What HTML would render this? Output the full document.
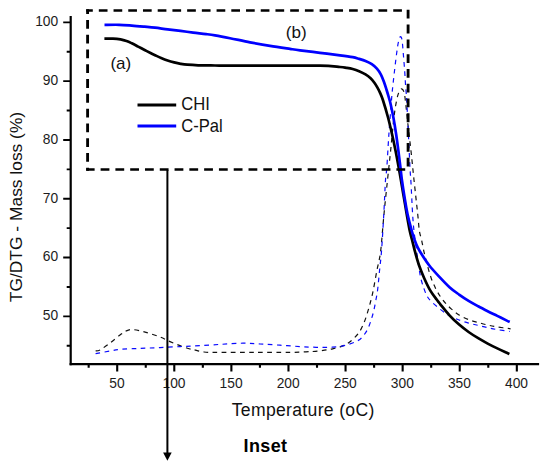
<!DOCTYPE html>
<html><head><meta charset="utf-8"><title>TG/DTG</title>
<style>
html,body{margin:0;padding:0;background:#fff;}
svg{display:block;}
text{font-family:"Liberation Sans",Arial,sans-serif;}
</style></head><body>
<svg width="550" height="471" viewBox="0 0 550 471">
<rect width="550" height="471" fill="#fff"/>
<path d="M95.60 351.00 C96.33 350.83 97.60 351.33 100.00 350.00 C102.40 348.67 106.67 345.50 110.00 343.00 C113.33 340.50 117.33 337.00 120.00 335.00 C122.67 333.00 123.83 331.90 126.00 331.00 C128.17 330.10 129.67 329.37 133.00 329.60 C136.33 329.83 141.50 331.17 146.00 332.40 C150.50 333.63 156.00 335.47 160.00 337.00 C164.00 338.53 166.67 340.17 170.00 341.60 C173.33 343.03 176.67 344.37 180.00 345.60 C183.33 346.83 187.67 348.30 190.00 349.00 C192.33 349.70 191.67 349.30 194.00 349.80 C196.33 350.30 199.67 351.57 204.00 352.00 C208.33 352.43 211.50 352.33 220.00 352.40 C228.50 352.47 243.33 352.40 255.00 352.40 C266.67 352.40 281.50 352.50 290.00 352.40 C298.50 352.30 301.78 351.98 306.00 351.80 C310.22 351.62 312.22 351.57 315.30 351.30 C318.38 351.03 321.60 350.62 324.50 350.20 C327.40 349.78 329.97 349.40 332.70 348.80 C335.43 348.20 338.45 347.47 340.90 346.60 C343.35 345.73 345.32 344.90 347.40 343.60 C349.48 342.30 351.40 340.73 353.40 338.80 C355.40 336.87 357.57 334.85 359.40 332.00 C361.23 329.15 362.93 325.33 364.40 321.70 C365.87 318.07 367.10 313.82 368.20 310.20 C369.30 306.58 370.15 303.37 371.00 300.00 C371.85 296.63 372.30 295.00 373.30 290.00 C374.30 285.00 376.02 275.00 377.00 270.00 C377.98 265.00 378.53 263.67 379.20 260.00 C379.87 256.33 380.20 255.67 381.00 248.00 C381.80 240.33 382.92 225.33 384.00 214.00 C385.08 202.67 386.40 190.50 387.50 180.00 C388.60 169.50 389.52 161.50 390.60 151.00 C391.68 140.50 392.98 125.50 394.00 117.00 C395.02 108.50 395.87 104.17 396.70 100.00 C397.53 95.83 398.18 93.87 399.00 92.00 C399.82 90.13 400.77 88.80 401.60 88.80 C402.43 88.80 403.38 90.13 404.00 92.00 C404.62 93.87 404.63 94.50 405.30 100.00 C405.97 105.50 407.05 116.50 408.00 125.00 C408.95 133.50 410.00 141.83 411.00 151.00 C412.00 160.17 412.88 169.50 414.00 180.00 C415.12 190.50 416.80 205.50 417.70 214.00 C418.60 222.50 418.75 226.67 419.40 231.00 C420.05 235.33 420.80 236.38 421.60 240.00 C422.40 243.62 423.23 248.45 424.20 252.70 C425.17 256.95 426.23 261.25 427.40 265.50 C428.57 269.75 429.83 274.38 431.20 278.20 C432.57 282.02 434.08 285.35 435.60 288.40 C437.12 291.45 438.62 294.00 440.30 296.50 C441.98 299.00 443.83 301.30 445.70 303.40 C447.57 305.50 449.27 307.18 451.50 309.10 C453.73 311.02 456.25 313.15 459.10 314.90 C461.95 316.65 465.42 318.33 468.60 319.60 C471.78 320.87 475.02 321.60 478.20 322.50 C481.38 323.40 484.52 324.27 487.70 325.00 C490.88 325.73 493.48 326.27 497.30 326.90 C501.12 327.53 508.38 328.48 510.60 328.80" fill="none" stroke="#111" stroke-width="1.2" stroke-dasharray="4.7 4.4"/>
<path d="M95.60 353.60 C98.00 353.17 105.93 351.70 110.00 351.00 C114.07 350.30 115.00 349.83 120.00 349.40 C125.00 348.97 133.33 348.70 140.00 348.40 C146.67 348.10 153.33 347.90 160.00 347.60 C166.67 347.30 174.33 346.87 180.00 346.60 C185.67 346.33 187.33 346.37 194.00 346.00 C200.67 345.63 211.83 344.87 220.00 344.40 C228.17 343.93 236.33 343.27 243.00 343.20 C249.67 343.13 253.83 343.67 260.00 344.00 C266.17 344.33 273.33 344.77 280.00 345.20 C286.67 345.63 295.00 346.28 300.00 346.60 C305.00 346.92 306.18 346.97 310.00 347.10 C313.82 347.23 319.20 347.38 322.90 347.40 C326.60 347.42 329.20 347.37 332.20 347.20 C335.20 347.03 338.18 346.87 340.90 346.40 C343.62 345.93 345.95 345.22 348.50 344.40 C351.05 343.58 353.98 342.63 356.20 341.50 C358.42 340.37 359.90 339.63 361.80 337.60 C363.70 335.57 366.00 332.38 367.60 329.30 C369.20 326.22 370.35 322.28 371.40 319.10 C372.45 315.92 373.15 313.38 373.90 310.20 C374.65 307.02 375.28 303.37 375.90 300.00 C376.52 296.63 376.98 295.00 377.60 290.00 C378.22 285.00 378.93 276.67 379.60 270.00 C380.27 263.33 380.90 259.33 381.60 250.00 C382.30 240.67 383.15 225.67 383.80 214.00 C384.45 202.33 385.00 187.67 385.50 180.00 C386.00 172.33 386.23 175.67 386.80 168.00 C387.37 160.33 388.12 145.33 388.90 134.00 C389.68 122.67 390.88 107.67 391.50 100.00 C392.12 92.33 391.93 94.27 392.60 88.00 C393.27 81.73 394.67 69.32 395.50 62.40 C396.33 55.48 397.05 50.15 397.60 46.50 C398.15 42.85 398.45 41.98 398.80 40.50 C399.15 39.02 399.40 38.25 399.70 37.60 C400.00 36.95 400.30 36.57 400.60 36.60 C400.90 36.63 401.22 36.90 401.50 37.80 C401.78 38.70 402.00 39.37 402.30 42.00 C402.60 44.63 402.88 48.48 403.30 53.60 C403.72 58.72 404.42 67.30 404.80 72.70 C405.18 78.10 405.37 82.62 405.60 86.00 C405.83 89.38 406.02 90.67 406.20 93.00 C406.38 95.33 406.33 93.17 406.70 100.00 C407.07 106.83 407.85 122.67 408.40 134.00 C408.95 145.33 409.57 159.83 410.00 168.00 C410.43 176.17 410.57 175.33 411.00 183.00 C411.43 190.67 412.10 206.00 412.60 214.00 C413.10 222.00 413.35 225.00 414.00 231.00 C414.65 237.00 415.73 244.25 416.50 250.00 C417.27 255.75 417.88 260.80 418.60 265.50 C419.32 270.20 419.92 274.38 420.80 278.20 C421.68 282.02 422.87 285.43 423.90 288.40 C424.93 291.37 425.82 293.87 427.00 296.00 C428.18 298.13 428.83 299.02 431.00 301.20 C433.17 303.38 436.92 306.67 440.00 309.10 C443.08 311.53 446.32 313.98 449.50 315.80 C452.68 317.62 455.92 318.78 459.10 320.00 C462.28 321.22 465.42 322.20 468.60 323.10 C471.78 324.00 475.02 324.63 478.20 325.40 C481.38 326.17 484.52 327.00 487.70 327.70 C490.88 328.40 493.63 328.97 497.30 329.60 C500.97 330.23 507.63 331.18 509.70 331.50" fill="none" stroke="#0a0aff" stroke-width="1.2" stroke-dasharray="4.6 4.5"/>
<path d="M104.40 38.70 C105.83 38.68 110.32 38.48 113.00 38.60 C115.68 38.72 118.25 39.00 120.50 39.40 C122.75 39.80 124.62 40.35 126.50 41.00 C128.38 41.65 129.85 42.37 131.80 43.30 C133.75 44.23 136.07 45.48 138.20 46.60 C140.33 47.72 142.47 48.88 144.60 50.00 C146.73 51.12 149.27 52.43 151.00 53.30 C152.73 54.17 153.32 54.42 155.00 55.20 C156.68 55.98 159.00 57.12 161.10 58.00 C163.20 58.88 165.42 59.77 167.60 60.50 C169.78 61.23 172.02 61.85 174.20 62.40 C176.38 62.95 178.52 63.42 180.70 63.80 C182.88 64.18 184.38 64.45 187.30 64.70 C190.22 64.95 193.58 65.17 198.20 65.30 C202.82 65.43 209.70 65.45 215.00 65.50 C220.30 65.55 220.00 65.58 230.00 65.60 C240.00 65.62 260.00 65.58 275.00 65.60 C290.00 65.62 309.17 65.47 320.00 65.70 C330.83 65.93 335.60 66.65 340.00 67.00 C344.40 67.35 344.28 67.47 346.40 67.80 C348.52 68.13 350.58 68.43 352.70 69.00 C354.82 69.57 356.97 70.30 359.10 71.20 C361.23 72.10 363.58 73.23 365.50 74.40 C367.42 75.57 369.12 76.82 370.60 78.20 C372.08 79.58 373.23 81.10 374.40 82.70 C375.57 84.30 376.65 86.10 377.60 87.80 C378.55 89.50 379.22 90.87 380.10 92.90 C380.98 94.93 381.60 95.98 382.90 100.00 C384.20 104.02 386.38 111.33 387.90 117.00 C389.42 122.67 390.72 128.33 392.00 134.00 C393.28 139.67 394.47 145.33 395.60 151.00 C396.73 156.67 397.92 163.17 398.80 168.00 C399.68 172.83 400.07 175.17 400.90 180.00 C401.73 184.83 402.83 191.33 403.80 197.00 C404.77 202.67 405.70 208.33 406.70 214.00 C407.70 219.67 408.90 226.67 409.80 231.00 C410.70 235.33 411.18 236.38 412.10 240.00 C413.02 243.62 414.13 248.45 415.30 252.70 C416.47 256.95 417.62 261.25 419.10 265.50 C420.58 269.75 422.30 273.97 424.20 278.20 C426.10 282.43 428.38 287.30 430.50 290.90 C432.62 294.50 435.32 297.65 436.90 299.80 C438.48 301.95 437.90 301.22 440.00 303.80 C442.10 306.38 446.32 311.83 449.50 315.30 C452.68 318.77 455.92 321.82 459.10 324.60 C462.28 327.38 465.42 329.73 468.60 332.00 C471.78 334.27 475.02 336.27 478.20 338.20 C481.38 340.13 484.52 341.90 487.70 343.60 C490.88 345.30 494.12 346.87 497.30 348.40 C500.48 349.93 504.78 351.87 506.80 352.80 C508.82 353.73 508.97 353.80 509.40 354.00" fill="none" stroke="#000" stroke-width="2.7" stroke-linecap="butt" stroke-linejoin="round"/>
<path d="M104.50 24.90 C106.93 24.88 114.55 24.68 119.10 24.80 C123.65 24.92 127.55 25.28 131.80 25.60 C136.05 25.92 140.73 26.35 144.60 26.70 C148.47 27.05 151.15 27.25 155.00 27.70 C158.85 28.15 163.45 28.87 167.70 29.40 C171.95 29.93 176.25 30.37 180.50 30.90 C184.75 31.43 188.95 32.07 193.20 32.60 C197.45 33.13 202.37 33.63 206.00 34.10 C209.63 34.57 211.00 34.72 215.00 35.40 C219.00 36.08 224.17 37.05 230.00 38.20 C235.83 39.35 243.33 41.02 250.00 42.30 C256.67 43.58 263.33 44.80 270.00 45.90 C276.67 47.00 285.00 48.17 290.00 48.90 C295.00 49.63 295.00 49.65 300.00 50.30 C305.00 50.95 313.33 51.97 320.00 52.80 C326.67 53.63 334.55 54.57 340.00 55.30 C345.45 56.03 349.52 56.60 352.70 57.20 C355.88 57.80 356.97 58.27 359.10 58.90 C361.23 59.53 363.38 60.12 365.50 61.00 C367.62 61.88 369.90 62.92 371.80 64.20 C373.70 65.48 375.40 67.00 376.90 68.70 C378.40 70.40 379.62 72.18 380.80 74.40 C381.98 76.62 383.03 79.40 384.00 82.00 C384.97 84.60 385.82 87.50 386.60 90.00 C387.38 92.50 388.03 94.67 388.70 97.00 C389.37 99.33 389.83 100.67 390.60 104.00 C391.37 107.33 392.38 112.00 393.30 117.00 C394.22 122.00 395.25 128.33 396.10 134.00 C396.95 139.67 397.67 145.33 398.40 151.00 C399.13 156.67 399.92 163.17 400.50 168.00 C401.08 172.83 401.23 175.17 401.90 180.00 C402.57 184.83 403.57 191.33 404.50 197.00 C405.43 202.67 406.28 208.33 407.50 214.00 C408.72 219.67 410.62 226.67 411.80 231.00 C412.98 235.33 413.60 237.23 414.60 240.00 C415.60 242.77 416.52 245.05 417.80 247.60 C419.08 250.15 420.38 252.32 422.30 255.30 C424.22 258.28 426.65 262.12 429.30 265.50 C431.95 268.88 434.83 271.98 438.20 275.60 C441.57 279.22 446.02 284.03 449.50 287.20 C452.98 290.37 455.92 292.32 459.10 294.60 C462.28 296.88 465.42 298.95 468.60 300.90 C471.78 302.85 475.02 304.58 478.20 306.30 C481.38 308.02 484.52 309.60 487.70 311.20 C490.88 312.80 494.12 314.33 497.30 315.90 C500.48 317.47 504.73 319.58 506.80 320.60 C508.87 321.62 509.22 321.77 509.70 322.00" fill="none" stroke="#0000ff" stroke-width="2.7" stroke-linecap="butt" stroke-linejoin="round"/>
<path d="M70.7 16.1V365.2" stroke="#000" stroke-width="2.2" fill="none"/>
<path d="M69.6 364.1H539.1" stroke="#000" stroke-width="2.2" fill="none"/>
<path d="M63.2 316.35H70M63.2 257.55H70M63.2 198.75H70M63.2 139.95H70M63.2 81.15H70M63.2 22.35H70M66.7 345.75H70M66.7 286.95H70M66.7 228.15H70M66.7 169.35H70M66.7 110.55H70M66.7 51.75H70" stroke="#000" stroke-width="1.9" fill="none"/>
<path d="M117.20 364V371.6M174.29 364V371.6M231.38 364V371.6M288.47 364V371.6M345.56 364V371.6M402.65 364V371.6M459.74 364V371.6M516.83 364V371.6M88.66 364V367.8M145.75 364V367.8M202.84 364V367.8M259.93 364V367.8M317.01 364V367.8M374.11 364V367.8M431.19 364V367.8M488.29 364V367.8" stroke="#000" stroke-width="2.1" fill="none"/>
<g font-family="'Liberation Sans', Arial, sans-serif" font-size="13.8" fill="#1c1c1c">
<text transform="translate(58.2 320.15) scale(1 1.08)" text-anchor="end">50</text>
<text transform="translate(58.2 261.35) scale(1 1.08)" text-anchor="end">60</text>
<text transform="translate(58.2 202.55) scale(1 1.08)" text-anchor="end">70</text>
<text transform="translate(58.2 143.75) scale(1 1.08)" text-anchor="end">80</text>
<text transform="translate(58.2 84.95) scale(1 1.08)" text-anchor="end">90</text>
<text transform="translate(58.2 26.15) scale(1 1.08)" text-anchor="end">100</text>
<text transform="translate(116.90 387.9) scale(1 1.1)" text-anchor="middle">50</text>
<text transform="translate(173.99 387.9) scale(1 1.1)" text-anchor="middle">100</text>
<text transform="translate(231.08 387.9) scale(1 1.1)" text-anchor="middle">150</text>
<text transform="translate(288.17 387.9) scale(1 1.1)" text-anchor="middle">200</text>
<text transform="translate(345.26 387.9) scale(1 1.1)" text-anchor="middle">250</text>
<text transform="translate(402.35 387.9) scale(1 1.1)" text-anchor="middle">300</text>
<text transform="translate(459.44 387.9) scale(1 1.1)" text-anchor="middle">350</text>
<text transform="translate(516.53 387.9) scale(1 1.1)" text-anchor="middle">400</text>
</g>
<g font-family="'Liberation Sans', Arial, sans-serif" fill="#111">
<text transform="translate(21.5 207) rotate(-90)" font-size="17.4" text-anchor="middle">TG/DTG - Mass loss (%)</text>
<text x="231.7" y="416" font-size="17.6" textLength="142.6" lengthAdjust="spacing">Temperature (oC)</text>
<text x="243.6" y="452.2" font-size="18" font-weight="bold" textLength="43.4" lengthAdjust="spacing" fill="#000">Inset</text>
<text x="110.4" y="68.8" font-size="17">(a)</text>
<text x="285.8" y="38.1" font-size="17.1">(b)</text>
<text transform="translate(181.2 109.8) scale(1 1.06)" font-size="16.6">CHI</text>
<text transform="translate(181.2 132) scale(1 1.06)" font-size="16.6">C-Pal</text>
</g>
<path d="M137.5 104.9H176.2" stroke="#000" stroke-width="3"/>
<path d="M137.5 126.1H176.2" stroke="#0000ff" stroke-width="3"/>
<path d="M408.1 9.8V169.6" stroke="#000" stroke-width="2.85" stroke-dasharray="8.8 5.99" fill="none"/>
<path d="M408.1 169.6H86.2" stroke="#000" stroke-width="2.5" stroke-dasharray="8.8 5.99" stroke-dashoffset="159.8" fill="none"/>
<path d="M87.6 170.85V9.2" stroke="#000" stroke-width="2.85" stroke-dasharray="8.8 5.99" stroke-dashoffset="479.05" fill="none"/>
<path d="M86.2 10.45H404" stroke="#000" stroke-width="2.45" stroke-dasharray="8.7 6.02" stroke-dashoffset="2.1" fill="none"/>
<path d="M167.4 170V454" stroke="#000" stroke-width="2" fill="none"/>
<path d="M163.1 452.6H171.7L167.4 460.7Z" fill="#000"/>
</svg>
</body></html>
